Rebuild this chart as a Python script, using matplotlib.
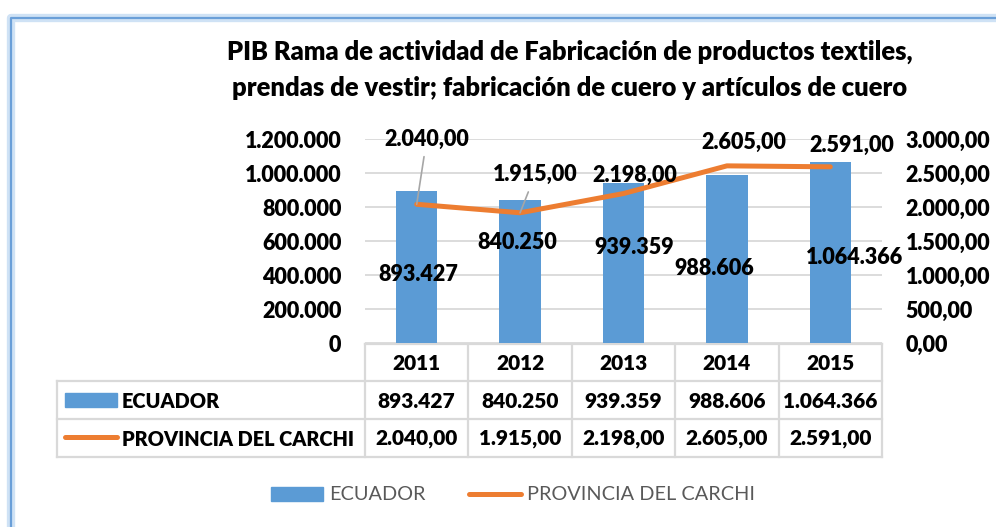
import matplotlib.pyplot as plt
from matplotlib.patches import Rectangle

plt.rcParams['font.family'] = ['Lato', 'DejaVu Sans']
plt.rcParams['font.weight'] = 'bold'

years = ["2011", "2012", "2013", "2014", "2015"]
ecuador = [893427, 840250, 939359, 988606, 1064366]
carchi = [2040.00, 1915.00, 2198.00, 2605.00, 2591.00]
left_ticks = [0, 200000, 400000, 600000, 800000, 1000000, 1200000]
right_ticks = [0, 500, 1000, 1500, 2000, 2500, 3000]

title_lines = ["PIB Rama de actividad de Fabricación de productos textiles,",
               "prendas de vestir; fabricación de cuero y artículos de cuero"]

BLUE = "#5b9bd5"
ORANGE = "#ed7d31"
GRID = "#d9d9d9"
HW = "heavy"


def fmt_int(v):
    return f"{v:,.0f}".replace(",", ".")


def fmt_dec(v):
    s = f"{v:,.2f}"
    return s.replace(",", "X").replace(".", ",").replace("X", ".")


W, H = 996, 527
fig = plt.figure(figsize=(W / 100, H / 100), dpi=100)

# background overlay in pixel coordinates
bg = fig.add_axes([0, 0, 1, 1])
bg.set_xlim(0, W)
bg.set_ylim(H, 0)
bg.axis("off")

# outer frame with soft glow
bg.plot([11, 11, W + 5], [H + 5, 18, 18], color="#cfe2f5", lw=6, solid_capstyle="butt")
bg.plot([11, 11, W + 5], [H + 5, 18, 18], color="#6a9fd8", lw=1.6, solid_capstyle="butt")

x0, x1 = 365, 882
y_top, y0 = 139, 343
ax = fig.add_axes([x0 / W, 1 - y0 / H, (x1 - x0) / W, (y0 - y_top) / H])
ax2 = ax.twinx()

TICK_FS = 15.5
xs = list(range(len(years)))
ax.bar(xs, ecuador, width=0.4, color=BLUE, zorder=2)
ax.set_xlim(-0.5, len(years) - 0.5)
ax.set_ylim(0, 1200000)
ax.set_yticks(left_ticks)
ax.set_yticklabels([fmt_int(v) for v in left_ticks], fontsize=TICK_FS, fontweight=HW)
ax.yaxis.grid(True, color=GRID, lw=1.3, zorder=0)
ax.set_axisbelow(True)
ax.set_xticks([])
ax.tick_params(axis="y", length=0, pad=17)
for sp in ax.spines.values():
    sp.set_visible(False)

ax2.plot(xs, carchi, color=ORANGE, lw=3.6, solid_capstyle="round", zorder=3)
ax2.set_ylim(0, 3000)
ax2.set_yticks(right_ticks)
ax2.set_yticklabels([fmt_dec(v) for v in right_ticks], fontsize=TICK_FS, fontweight=HW)
ax2.tick_params(axis="y", length=0, pad=17)
for sp in ax2.spines.values():
    sp.set_visible(False)

# bar data labels (offset in pixels from top of bar)
bar_label_offsets = [(2, -83), (-3, -42), (11, -64), (-13, -94), (24, -95)]
for x, v, (dx, dy) in zip(xs, ecuador, bar_label_offsets):
    ax.annotate(fmt_int(v), (x, v), xytext=(dx, dy), textcoords="offset pixels",
                ha="center", va="center", fontsize=TICK_FS, fontweight=HW, zorder=5)

# line data labels
line_label_offsets = [(10, 65), (15, 38), (11, 18), (17, 23), (21, 21)]
leader = [True, True, False, False, False]
for x, v, (dx, dy), ld in zip(xs, carchi, line_label_offsets, leader):
    kw = {}
    if ld:
        kw["arrowprops"] = dict(arrowstyle="-", color="#a6a6a6", lw=1.2,
                                shrinkA=3, shrinkB=0)
    ax2.annotate(fmt_dec(v), (x, v), xytext=(dx, dy), textcoords="offset pixels",
                 ha="center", va="center", fontsize=TICK_FS, fontweight=HW, zorder=6, **kw)

# title
for ty, line in zip([52, 88], title_lines):
    bg.text(570, ty, line, ha="center", va="center", fontsize=18.4, fontweight=HW)

# data table
TAB_FS = 15
col_w = (x1 - x0) / len(years)
rows = [344, 381, 419, 457]
lab_x = 57
tlw = 1.6
bg.plot([x0, x1], [rows[0]] * 2, color=GRID, lw=tlw)
for r in rows[1:]:
    bg.plot([lab_x, x1], [r] * 2, color=GRID, lw=tlw)
bg.plot([lab_x, lab_x], [rows[1], rows[3]], color=GRID, lw=tlw)
for i in range(len(years) + 1):
    bg.plot([x0 + i * col_w] * 2, [rows[0], rows[3]], color=GRID, lw=tlw)

for i, yr in enumerate(years):
    cx = x0 + (i + 0.5) * col_w
    bg.text(cx, (rows[0] + rows[1]) / 2 + 1, yr, ha="center", va="center",
            fontsize=TAB_FS, fontweight=HW)
    bg.text(cx, (rows[1] + rows[2]) / 2 + 1, fmt_int(ecuador[i]), ha="center", va="center",
            fontsize=TAB_FS, fontweight=HW)
    bg.text(cx, (rows[2] + rows[3]) / 2 + 1, fmt_dec(carchi[i]), ha="center", va="center",
            fontsize=TAB_FS, fontweight=HW)

bg.add_patch(Rectangle((65, 393), 52, 14, color=BLUE))
bg.text(122, 401, "ECUADOR", ha="left", va="center", fontsize=14.3, fontweight=HW)
bg.plot([65, 117], [437, 437], color=ORANGE, lw=3.6, solid_capstyle="round")
bg.text(122, 439, "PROVINCIA DEL CARCHI", ha="left", va="center", fontsize=14.3,
        fontweight=HW)

# legend
bg.add_patch(Rectangle((271, 487), 52, 14, color=BLUE))
bg.text(329, 494, "ECUADOR", ha="left", va="center", fontsize=14.3, color="#595959",
        fontweight="normal")
bg.plot([469, 521], [494, 494], color=ORANGE, lw=3.6, solid_capstyle="round")
bg.text(527, 494, "PROVINCIA DEL CARCHI", ha="left", va="center", fontsize=14.3,
        color="#595959", fontweight="normal")

fig.savefig("out.png", dpi=100)
